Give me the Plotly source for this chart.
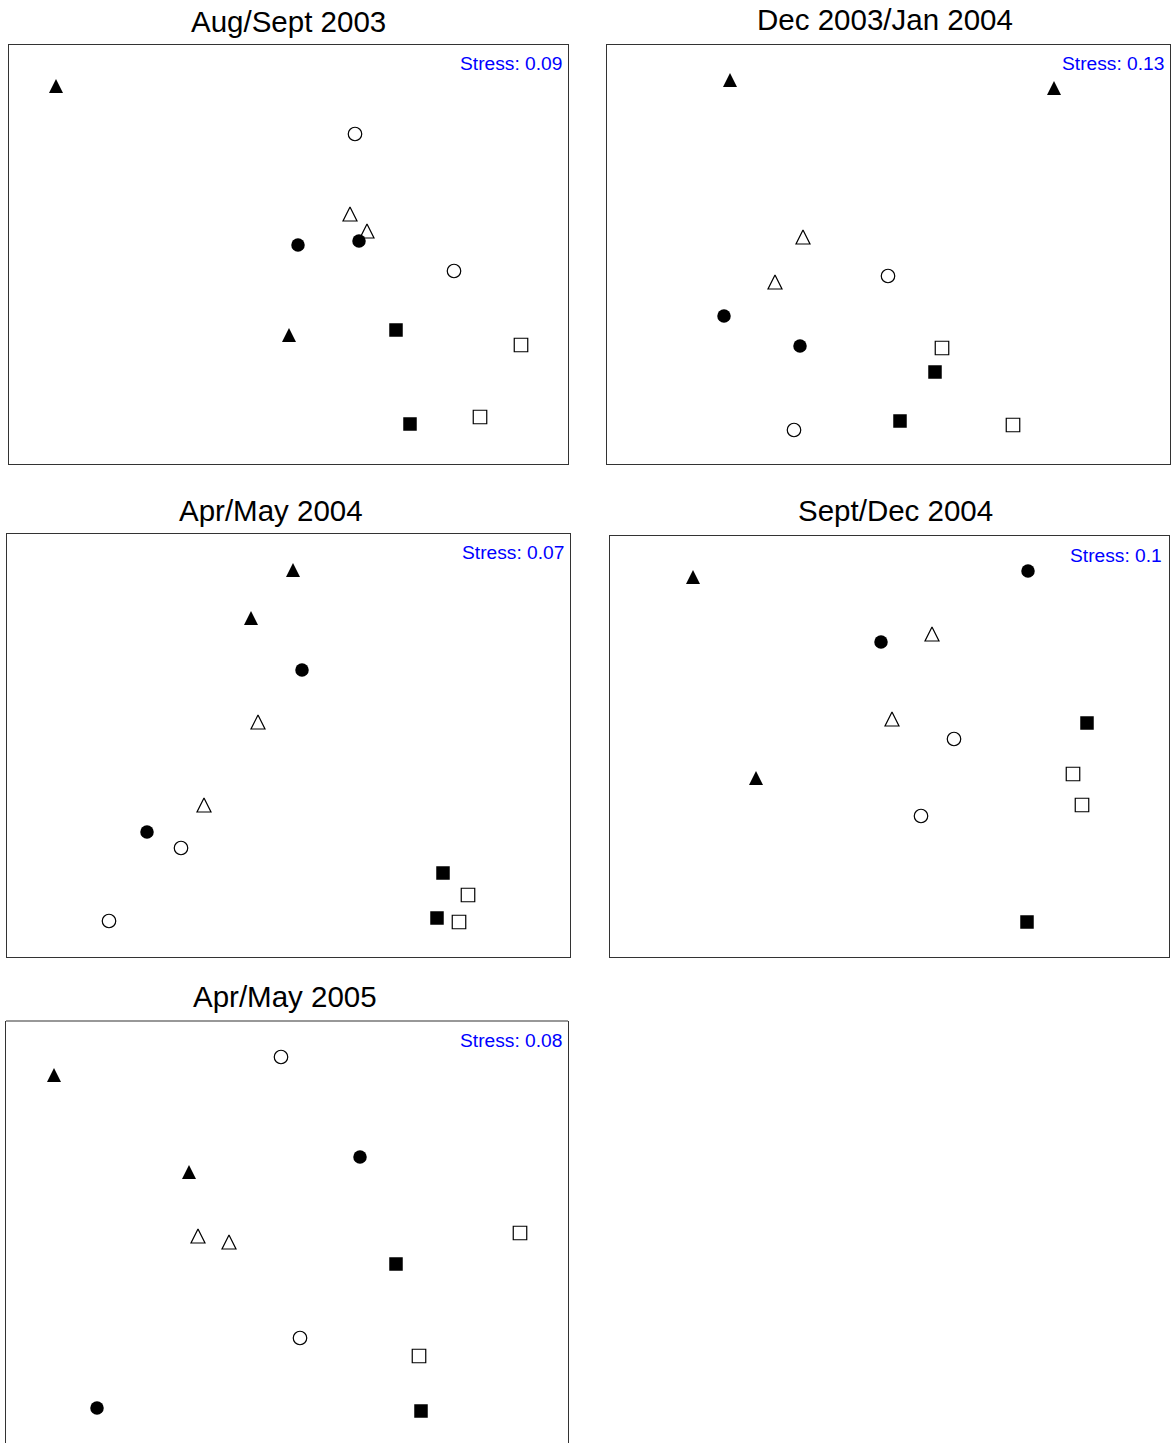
import plotly.graph_objects as go

W, H = 1174, 1443

titles = ["Aug/Sept 2003", "Dec 2003/Jan 2004", "Apr/May 2004", "Sept/Dec 2004", "Apr/May 2005"]
stress = ["Stress: 0.09", "Stress: 0.13", "Stress: 0.07", "Stress: 0.1", "Stress: 0.08"]

# NMDS ordination scores per panel (arbitrary units)
# Panel 1: Aug/Sept 2003
p1_tri_fill_x = [47, 280];  p1_tri_fill_y = [378, 129]
p1_tri_open_x = [341, 358]; p1_tri_open_y = [250, 233]
p1_cir_fill_x = [289, 350]; p1_cir_fill_y = [219, 223]
p1_cir_open_x = [346, 445]; p1_cir_open_y = [330, 193]
p1_sq_fill_x = [387, 401];  p1_sq_fill_y = [134, 40]
p1_sq_open_x = [512, 471];  p1_sq_open_y = [119, 47]

# Panel 2: Dec 2003/Jan 2004
p2_tri_fill_x = [123, 447]; p2_tri_fill_y = [384, 376]
p2_tri_open_x = [196, 168]; p2_tri_open_y = [227, 182]
p2_cir_fill_x = [117, 193]; p2_cir_fill_y = [148, 118]
p2_cir_open_x = [281, 187]; p2_cir_open_y = [188, 34]
p2_sq_fill_x = [328, 293];  p2_sq_fill_y = [92, 43]
p2_sq_open_x = [335, 406];  p2_sq_open_y = [116, 39]

# Panel 3: Apr/May 2004
p3_tri_fill_x = [286, 244]; p3_tri_fill_y = [387, 339]
p3_tri_open_x = [251, 197]; p3_tri_open_y = [235, 152]
p3_cir_fill_x = [295, 140]; p3_cir_fill_y = [287, 125]
p3_cir_open_x = [174, 102]; p3_cir_open_y = [109, 36]
p3_sq_fill_x = [436, 430];  p3_sq_fill_y = [84, 39]
p3_sq_open_x = [461, 452];  p3_sq_open_y = [62, 35]

# Panel 4: Sept/Dec 2004
p4_tri_fill_x = [83, 146];  p4_tri_fill_y = [380, 179]
p4_tri_open_x = [322, 282]; p4_tri_open_y = [323, 238]
p4_cir_fill_x = [418, 271]; p4_cir_fill_y = [386, 315]
p4_cir_open_x = [344, 311]; p4_cir_open_y = [218, 141]
p4_sq_fill_x = [477, 417];  p4_sq_fill_y = [234, 35]
p4_sq_open_x = [463, 472];  p4_sq_open_y = [183, 152]

# Panel 5: Apr/May 2005
p5_tri_fill_x = [48, 183];  p5_tri_fill_y = [368, 271]
p5_tri_open_x = [192, 223]; p5_tri_open_y = [207, 201]
p5_cir_fill_x = [354, 91];  p5_cir_fill_y = [286, 35]
p5_cir_open_x = [275, 294]; p5_cir_open_y = [386, 105]
p5_sq_fill_x = [390, 415];  p5_sq_fill_y = [179, 32]
p5_sq_open_x = [514, 413];  p5_sq_open_y = [210, 87]

panels_data = [
    [(p1_tri_fill_x, p1_tri_fill_y), (p1_tri_open_x, p1_tri_open_y), (p1_cir_fill_x, p1_cir_fill_y),
     (p1_cir_open_x, p1_cir_open_y), (p1_sq_fill_x, p1_sq_fill_y), (p1_sq_open_x, p1_sq_open_y)],
    [(p2_tri_fill_x, p2_tri_fill_y), (p2_tri_open_x, p2_tri_open_y), (p2_cir_fill_x, p2_cir_fill_y),
     (p2_cir_open_x, p2_cir_open_y), (p2_sq_fill_x, p2_sq_fill_y), (p2_sq_open_x, p2_sq_open_y)],
    [(p3_tri_fill_x, p3_tri_fill_y), (p3_tri_open_x, p3_tri_open_y), (p3_cir_fill_x, p3_cir_fill_y),
     (p3_cir_open_x, p3_cir_open_y), (p3_sq_fill_x, p3_sq_fill_y), (p3_sq_open_x, p3_sq_open_y)],
    [(p4_tri_fill_x, p4_tri_fill_y), (p4_tri_open_x, p4_tri_open_y), (p4_cir_fill_x, p4_cir_fill_y),
     (p4_cir_open_x, p4_cir_open_y), (p4_sq_fill_x, p4_sq_fill_y), (p4_sq_open_x, p4_sq_open_y)],
    [(p5_tri_fill_x, p5_tri_fill_y), (p5_tri_open_x, p5_tri_open_y), (p5_cir_fill_x, p5_cir_fill_y),
     (p5_cir_open_x, p5_cir_open_y), (p5_sq_fill_x, p5_sq_fill_y), (p5_sq_open_x, p5_sq_open_y)],
]

# ---- layout / styling ----
# panel boxes in pixels: left, top, right, bottom
boxes = [(9, 45, 568, 464), (607, 45, 1170, 464), (7, 534, 570, 957),
         (610, 536, 1169, 957), (6, 1021, 568, 1443)]
title_pos = [(288, 22), (885.5, 19), (270.5, 510), (895.5, 510), (284.5, 996)]
stress_pos = [(564, 64), (1166, 64), (566, 553), (1164, 555), (564, 1040)]

MS = 13.5
TRI = 14
symbols = [("arrow-up", True), ("arrow-up-open", True), ("circle", False),
           ("circle-open", False), ("square", False), ("square-open", False)]

fig = go.Figure()
annotations = []
shapes = []
for i, (data, box) in enumerate(zip(panels_data, boxes)):
    L, T, R, B = box
    n = "" if i == 0 else str(i + 1)
    xa, ya = "x" + n, "y" + n
    for (xs, ys), (sym, is_tri) in zip(data, symbols):
        yplot = [y + TRI / 2 for y in ys] if is_tri else ys
        opened = sym.endswith("open")
        fig.add_trace(go.Scatter(
            x=xs, y=yplot, mode="markers", xaxis=xa, yaxis=ya, showlegend=False,
            marker=dict(symbol=sym, size=TRI if is_tri else MS, color="black",
                        line=dict(color="black", width=1.2 if opened else 0)),
            hoverinfo="skip"))
    last = (i == 4)
    fig.layout["xaxis" + n] = dict(
        domain=[L / W, R / W], range=[0, R - L], anchor=ya,
        showgrid=False, zeroline=False, showticklabels=False, ticks="",
        showline=not last, mirror=True, linecolor="#333", linewidth=1.2, fixedrange=True)
    fig.layout["yaxis" + n] = dict(
        domain=[1 - B / H, 1 - T / H], range=[0, B - T], anchor=xa,
        showgrid=False, zeroline=False, showticklabels=False, ticks="",
        showline=True, mirror=True, linecolor="#333", linewidth=1.2, fixedrange=True)
    if last:
        shapes.append(dict(type="line", xref="paper", yref="paper",
                           x0=L / W, x1=R / W, y0=1 - T / H, y1=1 - T / H,
                           line=dict(color="#333", width=1.2)))
    tx, ty = title_pos[i]
    annotations.append(dict(text=titles[i], x=tx / W, y=1 - ty / H, xref="paper", yref="paper",
                            xanchor="center", yanchor="middle", showarrow=False,
                            font=dict(size=29.5, color="black", family="Liberation Sans, Arial")))
    sx, sy = stress_pos[i]
    annotations.append(dict(text=stress[i], x=sx / W, y=1 - sy / H, xref="paper", yref="paper",
                            xanchor="right", yanchor="middle", showarrow=False,
                            font=dict(size=19.2, color="#0000FF", family="Liberation Sans, Arial")))

fig.update_layout(width=W, height=H, margin=dict(l=0, r=0, t=0, b=0),
                  paper_bgcolor="white", plot_bgcolor="white",
                  annotations=annotations, shapes=shapes)
fig.write_html("out.html", config={"displayModeBar": False},
               post_script="document.body.style.margin='0px';document.body.style.overflow='hidden';")
